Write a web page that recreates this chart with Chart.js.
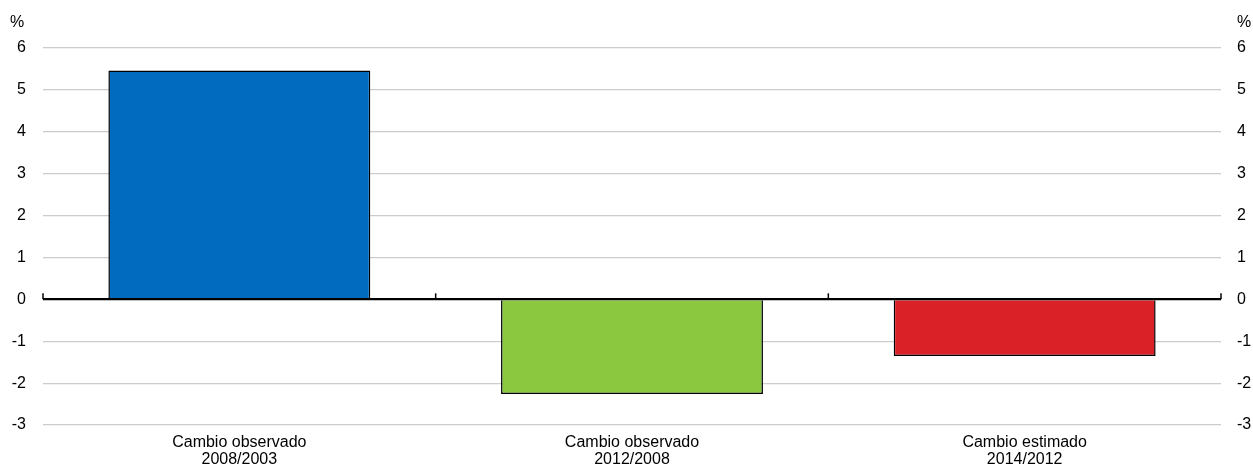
<!DOCTYPE html>
<html>
<head>
<meta charset="utf-8">
<script src="https://cdn.jsdelivr.net/npm/chart.js@4/dist/chart.umd.min.js"></script>
<style>
  html, body { margin: 0; padding: 0; background: #fff; }
  #wrap { width: 1253px; height: 471px; }
</style>
</head>
<body>
<div id="wrap"><canvas id="chart" width="1253" height="471"></canvas></div>
<script>
var categories = [
    ["Cambio observado", "2008/2003"],
    ["Cambio observado", "2012/2008"],
    ["Cambio estimado", "2014/2012"]
];
var values = [5.46, -2.26, -1.35];
var barColors = ['#006BBF', '#8CC83F', '#DA2128'];
var yMin = -3;
var yMax = 6;
var fontFamily = '"Liberation Sans", Arial, sans-serif';

// small upward ticks on the zero line + the "%" marks
var extrasPlugin = {
    id: 'extras',
    afterDraw: function(chart) {
        var ctx = chart.ctx;
        var x = chart.scales.x;
        var y = chart.scales.y;
        var y0 = y.getPixelForValue(0);
        var n = categories.length;
        ctx.save();
        ctx.strokeStyle = '#000';
        ctx.lineWidth = 2;
        ctx.beginPath();
        ctx.moveTo(x.left, y0);
        ctx.lineTo(x.right, y0);
        ctx.stroke();
        ctx.lineWidth = 1.5;
        for (var i = 0; i <= n; i++) {
            var px = x.left + i * (x.width / n);
            ctx.beginPath();
            ctx.moveTo(px, y0);
            ctx.lineTo(px, y0 - 6);
            ctx.stroke();
        }
        ctx.fillStyle = '#000';
        ctx.font = '16px ' + fontFamily;
        ctx.textBaseline = 'middle';
        ctx.textAlign = 'left';
        ctx.fillText('%', 10, 23);
        ctx.fillText('%', chart.scales.y2.left + 16, 23);
        ctx.restore();
    }
};

var ctx = document.getElementById('chart').getContext('2d');
var myChart = new Chart(ctx, {
    type: 'bar',
    data: {
        labels: categories,
        datasets: [{
            data: values,
            backgroundColor: barColors,
            borderColor: '#000',
            borderWidth: 1.5,
            borderSkipped: 'start',
            categoryPercentage: 0.667,
            barPercentage: 1.0
        }]
    },
    options: {
        responsive: false,
        animation: false,
        layout: { padding: { top: 48, left: 0, right: 0, bottom: 0 } },
        plugins: {
            legend: { display: false },
            tooltip: { enabled: false }
        },
        scales: {
            x: {
                grid: { display: false },
                border: { display: false },
                ticks: {
                    color: '#000',
                    font: { family: fontFamily, size: 16, lineHeight: 1.08 },
                    padding: 1,
                    maxRotation: 0
                },
                afterFit: function(s) { s.height = 46; }
            },
            y: {
                position: 'left',
                min: yMin,
                max: yMax,
                border: { display: false },
                grid: {
                    drawTicks: false,
                    color: function(c) { return c.tick && c.tick.value === 0 ? '#000' : '#cccccc'; },
                    lineWidth: function(c) { return c.tick && c.tick.value === 0 ? 2 : 1.2; }
                },
                ticks: {
                    stepSize: 1,
                    color: '#000',
                    padding: 17,
                    font: { family: fontFamily, size: 16 }
                },
                afterFit: function(s) { s.width = 43; }
            },
            y2: {
                position: 'right',
                min: yMin,
                max: yMax,
                border: { display: false },
                grid: { display: false, drawTicks: false },
                ticks: {
                    stepSize: 1,
                    color: '#000',
                    padding: 16,
                    font: { family: fontFamily, size: 16 }
                },
                afterFit: function(s) { s.width = 32; }
            }
        }
    },
    plugins: [extrasPlugin]
});
</script>
</body>
</html>
